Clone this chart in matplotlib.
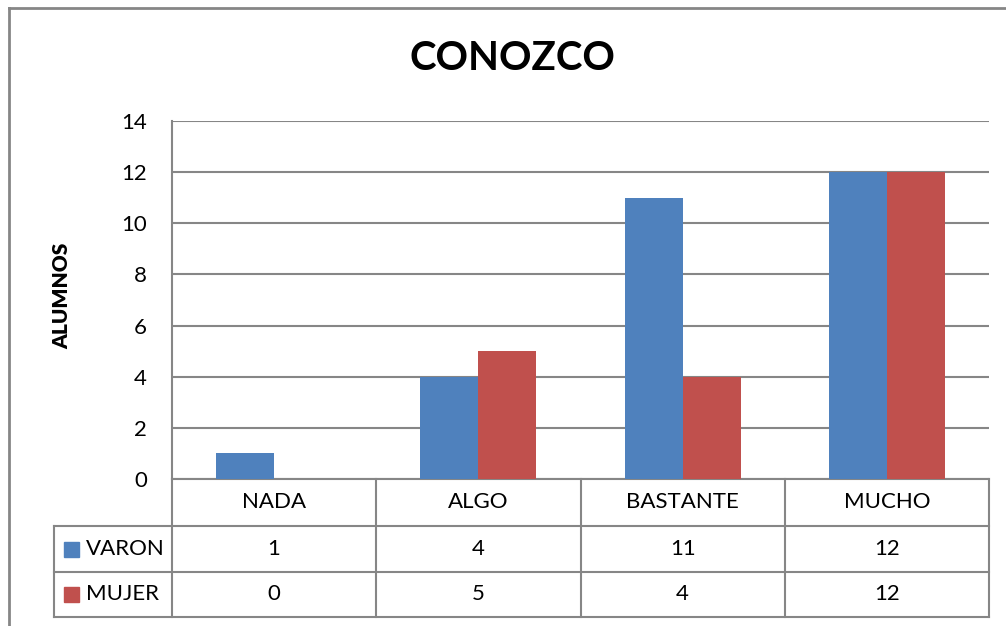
import matplotlib.pyplot as plt
import numpy as np
from matplotlib.lines import Line2D

plt.rcParams['font.family'] = ['Lato', 'DejaVu Sans']

categories = ['NADA', 'ALGO', 'BASTANTE', 'MUCHO']
series_names = ['VARON', 'MUJER']
varon = [1, 4, 11, 12]
mujer = [0, 5, 4, 12]
yticks = [0, 2, 4, 6, 8, 10, 12, 14]
colors = ['#4F81BD', '#C0504D']
grid_color = '#868686'
fs = 16

W, H = 1006, 626
fig = plt.figure(figsize=(W / 100, H / 100), dpi=100)

# plot area in pixels (from the reference)
px_left, px_right, px_top, px_bottom = 172, 989, 121, 479
ax = fig.add_axes([px_left / W, 1 - px_bottom / H,
                   (px_right - px_left) / W, (px_bottom - px_top) / H])

x = np.arange(len(categories))
bw = 0.284
ax.bar(x - bw / 2, varon, bw, color=colors[0], zorder=3)
ax.bar(x + bw / 2, mujer, bw, color=colors[1], zorder=3)

ax.set_xlim(-0.5, len(categories) - 0.5)
ax.set_ylim(0, 14)
ax.set_yticks(yticks)
ax.set_xticks([])
ax.tick_params(axis='y', length=0, labelsize=fs, pad=18)
for t in yticks:
    ax.axhline(t, color=grid_color, lw=1.5, zorder=1)
for s in ['top', 'right', 'bottom']:
    ax.spines[s].set_visible(False)
ax.spines['left'].set_color(grid_color)
ax.spines['left'].set_linewidth(1.5)

# data table below the axes
def ay(py):
    return (px_bottom - py) / (px_bottom - px_top)

def axx(px):
    return (px - px_left) / (px_right - px_left)

rows_px = [479, 526, 572, 617]
hdr_left = axx(54)
kw = dict(transform=ax.transAxes, color=grid_color, lw=1.5, clip_on=False)
ax.add_line(Line2D([0, 0], [ay(rows_px[0]), ay(rows_px[-1])], **kw))
ax.add_line(Line2D([hdr_left, hdr_left], [ay(rows_px[1]), ay(rows_px[-1])], **kw))
for i in range(1, len(categories) + 1):
    xa = i / len(categories)
    ax.add_line(Line2D([xa, xa], [ay(rows_px[0]), ay(rows_px[-1])], **kw))
ax.add_line(Line2D([0, 1], [ay(rows_px[0])] * 2, **kw))
for r in rows_px[1:]:
    ax.add_line(Line2D([hdr_left, 1], [ay(r)] * 2, **kw))

for i, cat in enumerate(categories):
    xc = (i + 0.5) / len(categories)
    ax.text(xc, ay((rows_px[0] + rows_px[1]) / 2), cat, transform=ax.transAxes,
            ha='center', va='center', fontsize=fs)
    ax.text(xc, ay((rows_px[1] + rows_px[2]) / 2), str(varon[i]), transform=ax.transAxes,
            ha='center', va='center', fontsize=fs)
    ax.text(xc, ay((rows_px[2] + rows_px[3]) / 2), str(mujer[i]), transform=ax.transAxes,
            ha='center', va='center', fontsize=fs)

for j, name in enumerate(series_names):
    yc = ay((rows_px[j + 1] + rows_px[j + 2]) / 2)
    ax.add_patch(plt.Rectangle((axx(64), yc - 7.5 / 358), 15 / 817, 15 / 358,
                               transform=ax.transAxes, color=colors[j], clip_on=False))
    ax.text(axx(86), yc, name, transform=ax.transAxes, ha='left', va='center', fontsize=fs)

fig.text(512 / W, 1 - 59 / H, 'CONOZCO', ha='center', va='center',
         fontsize=29, fontweight='bold')
fig.text(62 / W, 1 - 296 / H, 'ALUMNOS', ha='center', va='center', rotation=90,
         fontsize=15, fontweight='heavy')

# outer chart border
fig.add_artist(Line2D([9 / W, 9 / W], [0, 1 - 8 / H], transform=fig.transFigure,
                      color=grid_color, lw=2))
fig.add_artist(Line2D([9 / W, 1], [1 - 8 / H, 1 - 8 / H], transform=fig.transFigure,
                      color=grid_color, lw=2))

fig.savefig('out.png', dpi=100)
